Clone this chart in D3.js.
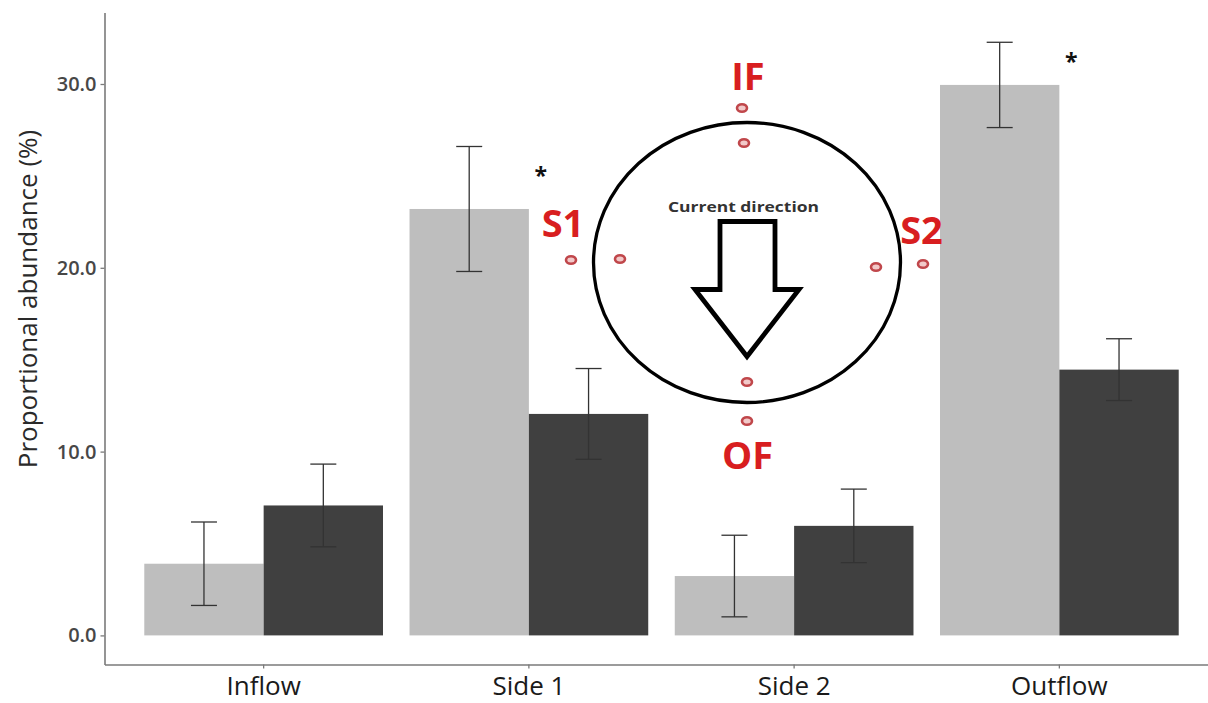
<!DOCTYPE html>
<html><head><meta charset="utf-8">
<script src="https://cdn.jsdelivr.net/npm/d3@7"></script>
<style>body{margin:0;background:#fff} svg{display:block}</style>
</head><body>
<svg id="chart" width="1208" height="703"></svg>
<script>
// ---- data ----
const categories = ["Inflow", "Side 1", "Side 2", "Outflow"];
const seriesNames = ["light", "dark"];
const lightMeans  = [3.9, 23.2, 3.23, 29.95];
const lightErrors = [2.27, 3.4, 2.22, 2.32];
const darkMeans   = [7.07, 12.05, 5.96, 14.46];
const darkErrors  = [2.25, 2.47, 2.0, 1.68];
const yTicks = [0, 10, 20, 30];
const tickLabels = ["0.0", "10.0", "20.0", "30.0"];
const significantCats = ["Side 1", "Outflow"];
const significantY = [25.3, 31.5];
const siteLabels = ["IF", "S1", "S2", "OF"];

// ---- layout ----
const svg = d3.select("#chart");
const panel = {left: 104.5, right: 1218.5, top: 12.5, bottom: 664.5};
const colors = {light: "#bebebe", dark: "#404040"};

const x = d3.scaleBand().domain(categories)
  .range([panel.left, panel.right]).paddingInner(0.1).paddingOuter(0.15);
const xs = d3.scaleBand().domain(seriesNames).range([0, x.bandwidth()]);
const y = d3.scaleLinear().domain([-1.583, 33.89]).range([panel.bottom, panel.top]);

const rows = [];
categories.forEach((c, i) => {
  rows.push({cat: c, s: "light", v: lightMeans[i], e: lightErrors[i]});
  rows.push({cat: c, s: "dark", v: darkMeans[i], e: darkErrors[i]});
});

// bars
svg.append("g").selectAll("rect").data(rows).join("rect")
  .attr("x", d => x(d.cat) + xs(d.s))
  .attr("width", xs.bandwidth())
  .attr("y", d => y(d.v))
  .attr("height", d => y(0) - y(d.v))
  .attr("fill", d => colors[d.s]);

// error bars
const capW = 26;
const eb = svg.append("g").attr("stroke", "#333").attr("stroke-width", 1.3).attr("fill", "none");
rows.forEach(d => {
  const cx = x(d.cat) + xs(d.s) + xs.bandwidth() / 2;
  eb.append("line").attr("x1", cx).attr("x2", cx).attr("y1", y(d.v + d.e)).attr("y2", y(d.v - d.e));
  eb.append("line").attr("x1", cx - capW/2).attr("x2", cx + capW/2).attr("y1", y(d.v + d.e)).attr("y2", y(d.v + d.e));
  eb.append("line").attr("x1", cx - capW/2).attr("x2", cx + capW/2).attr("y1", y(d.v - d.e)).attr("y2", y(d.v - d.e));
});

// asterisks
svg.append("g").selectAll("text").data(significantCats).join("text")
  .attr("x", c => x(c) + xs("light") + xs.bandwidth() + 12)
  .attr("y", (c, i) => y(significantY[i]) + 14)
  .attr("text-anchor", "middle")
  .attr("font-family", "Open Sans, sans-serif").attr("font-weight", 700).attr("font-size", 23).attr("fill", "#111")
  .text("*");

// axes
const yAxis = svg.append("g").attr("transform", `translate(${panel.left},0)`)
  .call(d3.axisLeft(y).tickValues(yTicks).tickFormat((d, i) => tickLabels[i]).tickSize(4).tickPadding(4).tickSizeOuter(0));
yAxis.select(".domain").attr("stroke", "#7a7a7a").attr("stroke-width", 1.6);
yAxis.selectAll(".tick line").attr("stroke", "#7a7a7a").attr("stroke-width", 1.3);
yAxis.selectAll(".tick text").attr("font-family", "Open Sans, sans-serif").attr("font-weight", 600)
  .attr("font-size", 20).attr("fill", "#474747");

const xAxis = svg.append("g").attr("transform", `translate(0,${panel.bottom})`)
  .call(d3.axisBottom(x).tickSize(4).tickPadding(8).tickSizeOuter(0));
xAxis.select(".domain").attr("stroke", "#7a7a7a").attr("stroke-width", 1.6);
xAxis.selectAll(".tick line").attr("stroke", "#7a7a7a").attr("stroke-width", 1.3);
xAxis.selectAll(".tick text").attr("font-family", "Open Sans, sans-serif").attr("font-size", 26).attr("fill", "#1a1a1a");

svg.append("text")
  .attr("transform", `translate(37,${299}) rotate(-90)`)
  .attr("text-anchor", "middle")
  .attr("font-family", "Open Sans, sans-serif").attr("font-size", 26).attr("fill", "#2a2a2a")
  .text("Proportional abundance (%)");

// ---- inset diagram ----
const dg = svg.append("g").attr("transform", "translate(747,262.5)");
dg.append("ellipse").attr("rx", 153.5).attr("ry", 140)
  .attr("fill", "#fff").attr("stroke", "#000").attr("stroke-width", 3.3);

dg.append("text").attr("x", -3.5).attr("y", -50.5)
  .attr("text-anchor", "middle").attr("font-family", "Open Sans, sans-serif")
  .attr("font-weight", 700).attr("font-size", 14).attr("fill", "#333")
  .attr("textLength", 151).attr("lengthAdjust", "spacingAndGlyphs")
  .text("Current direction");

const arrowPts = [[-27,-41],[28,-41],[28,27],[52,27],[0,94],[-52,27],[-27,27]];
dg.append("path").attr("d", d3.line()(arrowPts) + "Z")
  .attr("fill", "#fff").attr("stroke", "#000").attr("stroke-width", 4.8).attr("stroke-linejoin", "miter");

const dots = [[-5,-154.5],[-3,-119.5],[-176,-2.5],[-127,-3.5],[129,4.5],[176,1.5],[0,119.5],[0,158.5]];
dg.selectAll("ellipse.dot").data(dots).join("ellipse").attr("class", "dot")
  .attr("cx", d => d[0]).attr("cy", d => d[1]).attr("rx", 5).attr("ry", 3.8)
  .attr("fill", "#f2c9c9").attr("stroke", "#c0474b").attr("stroke-width", 2.6);

const labelPos = [[1,-172.5],[-184,-25.5],[174.5,-18.5],[0.5,206.5]];
dg.selectAll("text.site").data(siteLabels).join("text").attr("class", "site")
  .attr("x", (d, i) => labelPos[i][0]).attr("y", (d, i) => labelPos[i][1])
  .attr("text-anchor", "middle").attr("font-family", "Open Sans, sans-serif")
  .attr("font-weight", 700).attr("font-size", 38).attr("fill", "#d81e20")
  .text(d => d);
</script>
</body></html>
